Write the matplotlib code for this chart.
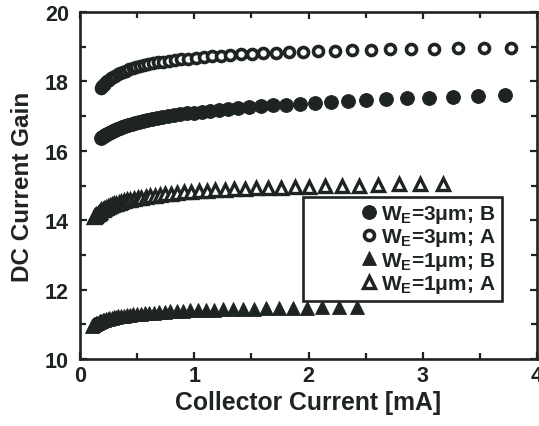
import matplotlib
matplotlib.use('Agg')
import matplotlib.pyplot as plt
from matplotlib.ticker import MultipleLocator

# ---------------- data ----------------
# W_E = 3 um, device B (filled circles)
ic_3um_B = [0.180, 0.193, 0.206, 0.220, 0.235, 0.251, 0.268, 0.286, 0.305, 0.326,
            0.348, 0.372, 0.397, 0.424, 0.453, 0.484, 0.517, 0.552, 0.590, 0.630,
            0.673, 0.718, 0.767, 0.819, 0.875, 0.934, 0.998, 1.066, 1.138, 1.216,
            1.298, 1.387, 1.481, 1.582, 1.689, 1.804, 1.927, 2.058, 2.198, 2.347,
            2.507, 2.677, 2.859, 3.054, 3.261, 3.483, 3.720]
gain_3um_B = [16.37, 16.40, 16.43, 16.46, 16.49, 16.52, 16.55, 16.58, 16.61, 16.64,
              16.66, 16.69, 16.72, 16.75, 16.78, 16.81, 16.83, 16.86, 16.89, 16.92,
              16.94, 16.97, 17.00, 17.02, 17.05, 17.08, 17.10, 17.13, 17.16, 17.18,
              17.21, 17.23, 17.26, 17.28, 17.31, 17.33, 17.36, 17.38, 17.41, 17.43,
              17.46, 17.48, 17.51, 17.53, 17.55, 17.58, 17.60]

# W_E = 3 um, device A (open circles)
ic_3um_A = [0.183, 0.195, 0.209, 0.223, 0.238, 0.254, 0.272, 0.290, 0.310, 0.331,
            0.353, 0.377, 0.403, 0.430, 0.460, 0.491, 0.524, 0.560, 0.598, 0.639,
            0.682, 0.729, 0.778, 0.831, 0.888, 0.948, 1.012, 1.081, 1.155, 1.233,
            1.317, 1.407, 1.502, 1.604, 1.713, 1.830, 1.954, 2.087, 2.229, 2.381,
            2.543, 2.716, 2.901, 3.098, 3.308, 3.533, 3.773]
gain_3um_A = [17.81, 17.86, 17.91, 17.96, 18.00, 18.05, 18.09, 18.13, 18.17, 18.21,
              18.24, 18.28, 18.31, 18.35, 18.38, 18.41, 18.44, 18.47, 18.50, 18.52,
              18.55, 18.57, 18.60, 18.62, 18.64, 18.66, 18.68, 18.70, 18.72, 18.74,
              18.76, 18.78, 18.79, 18.81, 18.83, 18.84, 18.85, 18.87, 18.88, 18.90,
              18.91, 18.92, 18.93, 18.94, 18.95, 18.96, 18.97]

# W_E = 1 um, device B (filled triangles)
ic_1um_B = [0.103, 0.110, 0.117, 0.125, 0.134, 0.143, 0.153, 0.163, 0.174, 0.186,
            0.199, 0.212, 0.227, 0.242, 0.258, 0.276, 0.295, 0.315, 0.336, 0.359,
            0.384, 0.410, 0.438, 0.467, 0.499, 0.533, 0.569, 0.608, 0.649, 0.693,
            0.741, 0.791, 0.845, 0.902, 0.963, 1.029, 1.099, 1.174, 1.254, 1.339,
            1.430, 1.527, 1.631, 1.742, 1.860, 1.987, 2.122, 2.266, 2.420]
gain_1um_B = [10.95, 10.97, 10.98, 11.00, 11.02, 11.04, 11.05, 11.07, 11.09, 11.10,
              11.12, 11.13, 11.15, 11.16, 11.17, 11.19, 11.20, 11.21, 11.23, 11.24,
              11.25, 11.26, 11.28, 11.29, 11.30, 11.31, 11.32, 11.33, 11.34, 11.35,
              11.36, 11.37, 11.38, 11.39, 11.40, 11.40, 11.41, 11.42, 11.43, 11.44,
              11.44, 11.45, 11.46, 11.47, 11.47, 11.48, 11.49, 11.49, 11.50]

# W_E = 1 um, device A (open triangles)
ic_1um_A = [0.127, 0.135, 0.144, 0.154, 0.165, 0.176, 0.188, 0.201, 0.214, 0.229,
            0.244, 0.261, 0.279, 0.298, 0.318, 0.340, 0.363, 0.387, 0.414, 0.442,
            0.472, 0.504, 0.538, 0.575, 0.614, 0.656, 0.700, 0.748, 0.799, 0.853,
            0.911, 0.973, 1.039, 1.110, 1.185, 1.266, 1.352, 1.444, 1.542, 1.647,
            1.759, 1.879, 2.007, 2.143, 2.289, 2.444, 2.611, 2.788, 2.978, 3.180]
gain_1um_A = [14.09, 14.13, 14.16, 14.19, 14.22, 14.25, 14.28, 14.30, 14.33, 14.36,
              14.38, 14.41, 14.43, 14.46, 14.48, 14.51, 14.53, 14.55, 14.57, 14.59,
              14.61, 14.63, 14.65, 14.67, 14.69, 14.71, 14.73, 14.75, 14.76, 14.78,
              14.80, 14.81, 14.83, 14.85, 14.86, 14.87, 14.89, 14.90, 14.92, 14.93,
              14.94, 14.96, 14.97, 14.98, 14.99, 15.00, 15.02, 15.03, 15.04, 15.05]

labels = [r'W$_\mathrm{E}$=3μm; B', r'W$_\mathrm{E}$=3μm; A',
          r'W$_\mathrm{E}$=1μm; B', r'W$_\mathrm{E}$=1μm; A']
x_label = 'Collector Current [mA]'
y_label = 'DC Current Gain'
x_ticks = [0, 1, 2, 3, 4]
y_ticks = [10, 12, 14, 16, 18, 20]

# ---------------- style ----------------
plt.rcParams['font.family'] = ['Liberation Sans', 'DejaVu Sans']
plt.rcParams['font.weight'] = 'bold'
plt.rcParams['mathtext.fontset'] = 'custom'
plt.rcParams['mathtext.rm'] = 'Liberation Sans:bold'
plt.rcParams['mathtext.it'] = 'Liberation Sans:bold'
plt.rcParams['mathtext.bf'] = 'Liberation Sans:bold'

ink = '#1e2420'

fig = plt.figure(figsize=(5.39, 4.27), dpi=100)
ax = fig.add_axes([0.1484, 0.1569, 0.848, 0.8126])

h1, = ax.plot(ic_3um_B, gain_3um_B, linestyle='none', marker='o', markersize=10.0,
              markerfacecolor=ink, markeredgecolor=ink, markeredgewidth=0.6)
h2, = ax.plot(ic_3um_A, gain_3um_A, linestyle='none', marker='o', markersize=7.2,
              markerfacecolor='white', markeredgecolor=ink, markeredgewidth=2.6)
h3, = ax.plot(ic_1um_B, gain_1um_B, linestyle='none', marker='^', markersize=10.5,
              markerfacecolor=ink, markeredgecolor=ink, markeredgewidth=0.6)
h4, = ax.plot(ic_1um_A, gain_1um_A, linestyle='none', marker='^', markersize=8.0,
              markerfacecolor='white', markeredgecolor=ink, markeredgewidth=2.4)

ax.set_xlim(0, 4)
ax.set_ylim(10, 20)
ax.set_xticks(x_ticks)
ax.set_yticks(y_ticks)
ax.xaxis.set_minor_locator(MultipleLocator(0.5))
ax.yaxis.set_minor_locator(MultipleLocator(1))
ax.tick_params(which='both', direction='in', top=True, right=True, color=ink,
               width=1.6, labelsize=15.5, labelcolor=ink)
ax.tick_params(which='major', length=5)
ax.tick_params(which='minor', length=4)
ax.tick_params(axis='y', pad=8)
ax.tick_params(axis='x', pad=4)
for lab in ax.get_xticklabels() + ax.get_yticklabels():
    lab.set_fontweight('bold')
for sp in ax.spines.values():
    sp.set_linewidth(1.9)
    sp.set_color(ink)

ax.set_xlabel(x_label, fontsize=17.8, fontweight='bold', color=ink, labelpad=3)
ax.set_ylabel(y_label, fontsize=17.5, fontweight='bold', color=ink, labelpad=8)

leg = ax.legend([h1, h2, h3, h4], labels, loc='upper left',
                bbox_to_anchor=(0.488, 0.467), borderaxespad=0,
                prop={'weight': 'bold', 'size': 15}, numpoints=1,
                handlelength=5.7, handletextpad=-2.25, borderpad=0.3,
                labelspacing=0.06, fancybox=False, framealpha=1,
                edgecolor=ink, labelcolor=ink)
leg.get_frame().set_linewidth(1.9)

fig.savefig('out.png', dpi=100)
